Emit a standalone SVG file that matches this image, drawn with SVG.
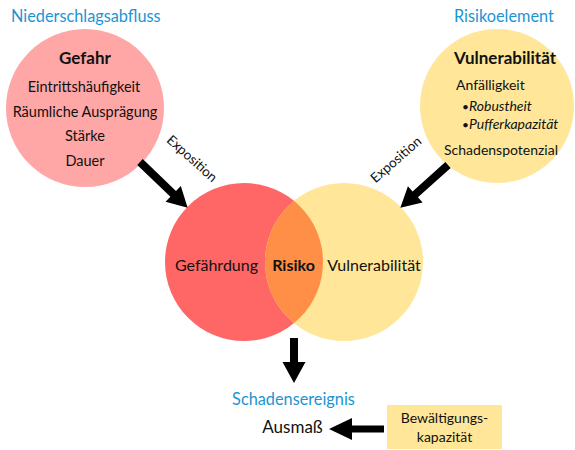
<svg xmlns="http://www.w3.org/2000/svg" width="575" height="450" viewBox="0 0 575 450">
<style>
text{font-family:Lato,"Open Sans","Liberation Sans",sans-serif;fill:#111;}
.t{font-size:14.5px;text-anchor:middle;}
.b{font-weight:bold;font-size:17px;}
.blue{fill:#1B95D3;font-size:16.3px;}
.i{font-style:italic;font-size:14px;}
.m{font-size:16px;}
.e{font-size:13.5px;text-anchor:middle;}
.arr{fill:#000;}
</style>
<defs>
<clipPath id="clipRed"><circle cx="244" cy="262" r="79"/></clipPath>
</defs>
<rect width="575" height="450" fill="#fff"/>
<g id="label-niederschlag"><text class="blue" x="11" y="22">Niederschlagsabfluss</text></g>
<g id="label-risikoelement"><text class="blue" x="454" y="22">Risikoelement</text></g>
<g id="gefahr">
<circle cx="85" cy="108" r="79" fill="#FFA6A6"/>
<text class="t b" x="85" y="64">Gefahr</text>
<text class="t" x="84" y="92">Eintrittshäufigkeit</text>
<text class="t" x="85" y="117">Räumliche Ausprägung</text>
<text class="t" x="85" y="141">Stärke</text>
<text class="t" x="85" y="166">Dauer</text>
</g>
<g id="vulnerabilitaet-element">
<circle cx="497" cy="106" r="77" fill="#FFE699"/>
<text class="t b" x="505" y="64">Vulnerabilität</text>
<text style="font-size:14px" x="456" y="90">Anfälligkeit</text>
<text style="font-size:12px" x="462" y="111">•</text>
<text class="i" x="469" y="111">Robustheit</text>
<text style="font-size:12px" x="462" y="129">•</text>
<text class="i" x="469" y="129">Pufferkapazität</text>
<text class="t" x="501" y="155" style="font-size:14px">Schadenspotenzial</text>
</g>
<g id="risiko">
<circle id="gefaehrdung" cx="244" cy="262" r="79" fill="#FF6666"/>
<circle id="vulnerabilitaet" cx="344" cy="262" r="79" fill="#FFE699"/>
<circle cx="344" cy="262" r="79" fill="#FF8F47" clip-path="url(#clipRed)"/>
<text class="t m" x="216.5" y="271">Gefährdung</text>
<text class="t b" x="293.5" y="271" style="font-size:16px">Risiko</text>
<text class="t m" x="374" y="271">Vulnerabilität</text>
</g>
<g id="schadensereignis">
<text class="blue" x="293.5" y="405" text-anchor="middle">Schadensereignis</text>
<text class="t" x="292.5" y="433" style="font-size:17px">Ausmaß</text>
</g>
<g id="bewaeltigung">
<rect x="387" y="405" width="115" height="44" fill="#FFE699"/>
<text class="t" x="444.5" y="423" style="font-size:14px">Bewältigungs-</text>
<text class="t" x="444.5" y="442" style="font-size:14px">kapazität</text>
</g>
<g id="connectors">
<polygon class="arr" transform="translate(140,162) rotate(43.8)" points="0,-4 46,-4 46,-11 66,0 46,11 46,4 0,4"/>
<polygon class="arr" transform="translate(448,165) rotate(138.1)" points="0,-4 44,-4 44,-11 64,0 44,11 44,4 0,4"/>
<polygon class="arr" transform="translate(294,338) rotate(90)" points="0,-4 24,-4 24,-11.5 45,0 24,11.5 24,4 0,4"/>
<polygon class="arr" transform="translate(384,429) rotate(180)" points="0,-3.5 32,-3.5 32,-11 55,0 32,11 32,3.5 0,3.5"/>
<text class="e" transform="translate(189,162) rotate(42)">Exposition</text>
<text class="e" transform="translate(399,163) rotate(-41)">Exposition</text>
</g>
</svg>
